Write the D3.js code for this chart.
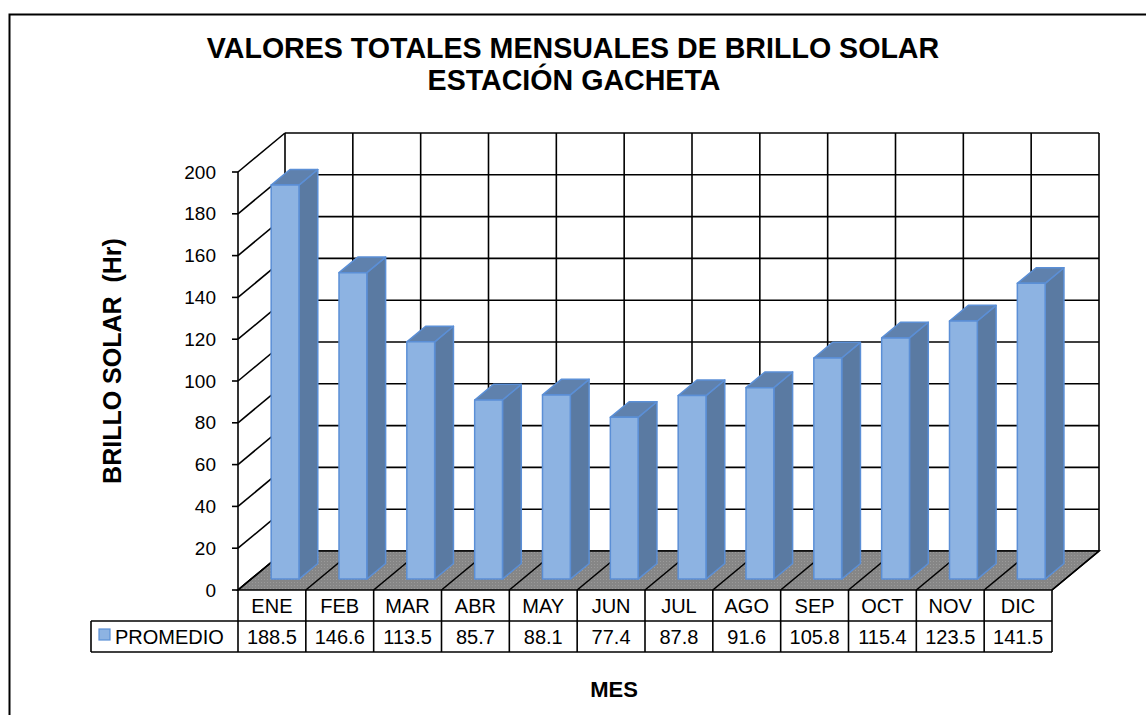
<!DOCTYPE html>
<html>
<head>
<meta charset="utf-8">
<script src="https://cdn.jsdelivr.net/npm/d3@7"></script>
<style>
  body { margin: 0; background: #fff; }
  text { font-family: Arial, "Liberation Sans", sans-serif; fill: #000; }
</style>
</head>
<body>
<svg id="chart" width="1146" height="715"></svg>
<script>
// data
const months = ["ENE", "FEB", "MAR", "ABR", "MAY", "JUN", "JUL", "AGO", "SEP", "OCT", "NOV", "DIC"];
const promedio = [188.5, 146.6, 113.5, 85.7, 88.1, 77.4, 87.8, 91.6, 105.8, 115.4, 123.5, 141.5];
const yTicks = [0, 20, 40, 60, 80, 100, 120, 140, 160, 180, 200];
const seriesName = "PROMEDIO";

const svg = d3.select("#chart");

// outer frame
svg.append("rect")
    .attr("x", 9.5).attr("y", 14.5)
    .attr("width", 1160).attr("height", 720)
    .attr("fill", "#fff").attr("stroke", "#000").attr("stroke-width", 2);

const x = d3.scaleBand().domain(months).range([238, 1052]);
const y = d3.scaleLinear().domain([0, 200]).range([590, 172]);
const DX = 47, DY = 39; // depth offset of the back wall

function proj(px, v, z) {
    return [px + z * DX, y(v) - z * DY];
}

const x0 = x.range()[0], x1 = x.range()[1];

// floor texture
const defs = svg.append("defs");
const pat = defs.append("pattern")
    .attr("id", "floorPat").attr("width", 3).attr("height", 3)
    .attr("patternUnits", "userSpaceOnUse");
pat.append("rect").attr("width", 3).attr("height", 3).attr("fill", "#868686");
pat.append("rect").attr("width", 1).attr("height", 1).attr("fill", "#9a9a9a");

// back wall
const bw = proj(x0, 200, 1), bw2 = proj(x1, 0, 1);
svg.append("rect")
    .attr("x", bw[0]).attr("y", bw[1])
    .attr("width", bw2[0] - bw[0]).attr("height", bw2[1] - bw[1])
    .attr("fill", "#fff");

const grid = svg.append("g").attr("stroke", "#000").attr("stroke-width", 1.6).attr("fill", "none");

// horizontal gridlines on back wall + diagonal lines on the side wall
yTicks.forEach(t => {
    const a = proj(x0, t, 1), b = proj(x1, t, 1), f = proj(x0, t, 0);
    grid.append("line").attr("x1", a[0]).attr("y1", a[1]).attr("x2", b[0]).attr("y2", b[1]);
    grid.append("line").attr("x1", f[0]).attr("y1", f[1]).attr("x2", a[0]).attr("y2", a[1]);
});

// vertical gridlines on back wall
const bounds = months.map(m => x(m)).concat([x1]);
bounds.forEach(bx => {
    const a = proj(bx, 0, 1), b = proj(bx, 200, 1);
    grid.append("line").attr("x1", a[0]).attr("y1", a[1]).attr("x2", b[0]).attr("y2", b[1]);
});

// floor
const fl = [proj(x0, 0, 0), proj(x1, 0, 0), proj(x1, 0, 1), proj(x0, 0, 1)];
svg.append("polygon")
    .attr("points", fl.map(p => p.join(",")).join(" "))
    .attr("fill", "url(#floorPat)").attr("stroke", "#000").attr("stroke-width", 1.6);
bounds.forEach(bx => {
    const a = proj(bx, 0, 0), b = proj(bx, 0, 1);
    svg.append("line").attr("x1", a[0]).attr("y1", a[1]).attr("x2", b[0]).attr("y2", b[1])
        .attr("stroke", "#000").attr("stroke-width", 1.6);
});

// y axis line on the front plane
svg.append("line").attr("x1", x0).attr("y1", y(0)).attr("x2", x0).attr("y2", y(200))
    .attr("stroke", "#000").attr("stroke-width", 1.6);

// bars
const barW = x.bandwidth() * 0.41;
const zF = 0.28, zB = 0.68;
const bars = svg.append("g");
months.forEach((m, i) => {
    const v = promedio[i];
    const cx = x(m) + x.bandwidth() / 2;
    const l = cx - barW / 2, r = cx + barW / 2;
    const g = bars.append("g").attr("stroke", "#5b8fd6").attr("stroke-width", 1.5).attr("stroke-linejoin", "round");
    const side = [proj(r, 0, zF), proj(r, v, zF), proj(r, v, zB), proj(r, 0, zB)];
    const top = [proj(l, v, zF), proj(r, v, zF), proj(r, v, zB), proj(l, v, zB)];
    const front = [proj(l, 0, zF), proj(r, 0, zF), proj(r, v, zF), proj(l, v, zF)];
    g.append("polygon").attr("points", side.map(p => p.join(",")).join(" ")).attr("fill", "#5a7aa2");
    g.append("polygon").attr("points", top.map(p => p.join(",")).join(" ")).attr("fill", "#5f81ad");
    g.append("polygon").attr("points", front.map(p => p.join(",")).join(" ")).attr("fill", "#8db3e2");
});

// y ticks + labels
const yAxis = svg.append("g");
yTicks.forEach(t => {
    yAxis.append("line").attr("x1", x0 - 6).attr("x2", x0).attr("y1", y(t)).attr("y2", y(t))
        .attr("stroke", "#000").attr("stroke-width", 1.6);
    yAxis.append("text").attr("x", 216).attr("y", y(t)).attr("dy", "0.35em")
        .attr("text-anchor", "end").style("font-size", "19px").text(t);
});

// data table
const tTop = 590, tMid = 621, tBot = 652, tLeft = 91;
const tbl = svg.append("g").attr("stroke", "#000").attr("stroke-width", 1.6);
tbl.append("line").attr("x1", tLeft).attr("x2", x1).attr("y1", tMid).attr("y2", tMid);
tbl.append("line").attr("x1", tLeft).attr("x2", x1).attr("y1", tBot).attr("y2", tBot);
tbl.append("line").attr("x1", tLeft).attr("x2", tLeft).attr("y1", tMid).attr("y2", tBot);
bounds.forEach(bx => {
    tbl.append("line").attr("x1", bx).attr("x2", bx).attr("y1", tTop).attr("y2", tBot);
});
months.forEach((m, i) => {
    const cx = x(m) + x.bandwidth() / 2;
    svg.append("text").attr("x", cx).attr("y", (tTop + tMid) / 2).attr("dy", "0.36em")
        .attr("text-anchor", "middle").style("font-size", "20px").text(m);
    svg.append("text").attr("x", cx).attr("y", (tMid + tBot) / 2).attr("dy", "0.36em")
        .attr("text-anchor", "middle").style("font-size", "20px").text(promedio[i].toFixed(1));
});
svg.append("rect").attr("x", 99).attr("y", 629).attr("width", 11).attr("height", 11)
    .attr("fill", "#8db3e2").attr("stroke", "#5b8fd6").attr("stroke-width", 1.2);
svg.append("text").attr("x", 115).attr("y", (tMid + tBot) / 2).attr("dy", "0.36em")
    .style("font-size", "20px").text(seriesName);

// titles
svg.append("text").attr("x", 573).attr("y", 58).attr("text-anchor", "middle")
    .style("font-size", "28.6px").style("font-weight", "bold")
    .text("VALORES TOTALES MENSUALES DE BRILLO SOLAR");
svg.append("text").attr("x", 574).attr("y", 90).attr("text-anchor", "middle")
    .style("font-size", "28.6px").style("font-weight", "bold")
    .text("ESTACIÓN GACHETA");
svg.append("text")
    .attr("transform", "translate(121,361) rotate(-90)")
    .attr("text-anchor", "middle")
    .style("white-space", "pre")
    .style("font-size", "25px").style("font-weight", "bold")
    .text("BRILLO SOLAR  (Hr)");
svg.append("text").attr("x", 614).attr("y", 697).attr("text-anchor", "middle")
    .style("font-size", "22px").style("font-weight", "bold")
    .text("MES");
</script>
</body>
</html>
